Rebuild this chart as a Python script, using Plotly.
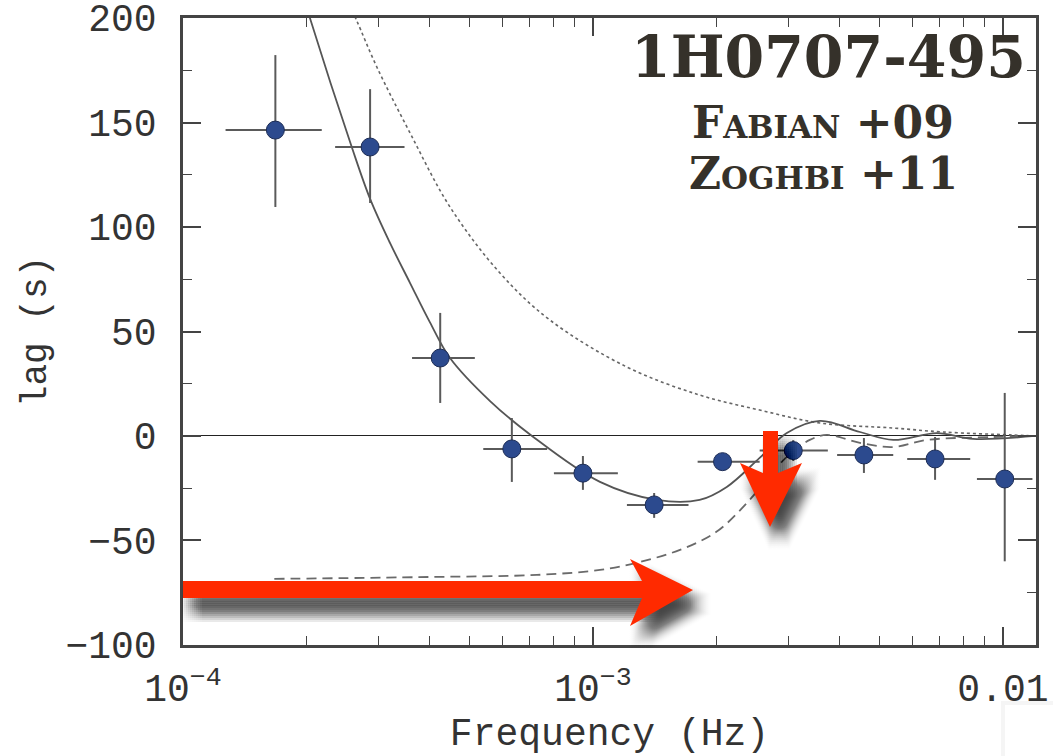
import plotly.graph_objects as go

# ---- measured lags (1H0707-495) ----
freq = [1.68e-4, 2.86e-4, 4.24e-4, 6.34e-4, 9.45e-4, 1.41e-3, 2.07e-3, 3.08e-3, 4.58e-3, 6.83e-3, 1.01e-2]
freq_lo = [1.27e-4, 2.35e-4, 3.62e-4, 5.40e-4, 8.03e-4, 1.21e-3, 1.80e-3, 2.55e-3, 3.94e-3, 5.84e-3, 8.64e-3]
freq_hi = [2.18e-4, 3.47e-4, 5.15e-4, 7.73e-4, 1.15e-3, 1.71e-3, 2.55e-3, 3.74e-3, 5.40e-3, 8.32e-3, 1.18e-2]
lag = [146.4, 138.3, 37.3, -6.2, -17.8, -33.0, -12.3, -7.0, -9.1, -11.0, -20.6]
lag_lo = [109.6, 111.5, 15.8, -22.0, -25.8, -39.2, -16.3, -12.0, -17.7, -21.0, -60.0]
lag_hi = [182.3, 166.0, 58.9, 8.6, -9.6, -27.3, -8.3, -2.0, -1.0, -0.5, 20.6]

# ---- model curves ----
total_f = [1.93e-4, 2.04e-4, 2.58e-4, 2.86e-4, 3.20e-4, 3.58e-4, 4.0e-4, 4.48e-4, 5.61e-4, 7.10e-4, 1.04e-3,
           1.43e-3, 1.82e-3, 2.12e-3, 2.55e-3, 2.97e-3, 3.58e-3, 4.48e-3, 5.40e-3, 6.90e-3, 8.45e-3, 1.20e-2]
total_lag = [216, 200, 138.3, 113.5, 92.3, 73.2, 54.5, 37.3, 16.7, 0.0, -22.0,
             -30.6, -30.6, -24.4, -10.5, 1.4, 7.2, 1.9, -1.9, 1.4, -1.4, 0.0]

hard_f = [2.55e-4, 2.65e-4, 2.97e-4, 3.58e-4, 4.48e-4, 5.93e-4, 7.85e-4, 1.21e-3, 1.82e-3,
          2.55e-3, 3.58e-3, 5.40e-3, 7.14e-3, 1.04e-2, 1.20e-2]
hard_lag = [206, 199, 176.6, 145, 109.6, 78, 55.5, 33, 19.6, 12.4, 6.2, 3.8, 1.9, 0.5, 0.0]

refl_f = [1.67e-4, 4.0e-4, 7.3e-4, 1.04e-3, 1.30e-3, 1.63e-3, 2.0e-3, 2.35e-3, 2.65e-3, 2.97e-3,
          3.38e-3, 3.72e-3, 4.48e-3, 5.40e-3, 6.53e-3, 9.46e-3, 1.20e-2]
refl_lag = [-68.4, -67.5, -66.5, -64.1, -60.3, -54.5, -45.9, -33, -21, -10,
            -1.9, 0.5, -3.3, -5.3, -1.9, -0.5, 0.0]

x_tickvals = [1e-4, 1e-3, 1e-2]
x_ticktext = ["10<sup>−4</sup>", "10<sup>−3</sup>", "0.01"]
x_minor = [k * 1e-4 for k in range(2, 10)] + [k * 1e-3 for k in range(2, 10)]
y_tickvals = [-100, -50, 0, 50, 100, 150, 200]

# plot-area geometry in pixels (used only for the overlay decorations)
W, H = 1053, 756
L, R, T, B = 183, 1036, 18, 645


def to_paper(px, py):
    return (px - L) / (R - L), (B - py) / (B - T)


def path_from(points, dx=0.0, dy=0.0):
    parts = []
    for i, (px, py) in enumerate(points):
        x, y = to_paper(px + dx, py + dy)
        parts.append(("M" if i == 0 else "L") + f"{x:.5f},{y:.5f}")
    return " ".join(parts) + " Z"


fig = go.Figure()

fig.add_trace(go.Scatter(x=hard_f, y=hard_lag, mode="lines", line=dict(color="#666", width=1.6, dash="dot"),
                         line_shape="spline", hoverinfo="skip", showlegend=False))
fig.add_trace(go.Scatter(x=refl_f, y=refl_lag, mode="lines", line=dict(color="#6a6a6a", width=1.8, dash="10px,6px"),
                         line_shape="spline", hoverinfo="skip", showlegend=False))
fig.add_trace(go.Scatter(x=total_f, y=total_lag, mode="lines", line=dict(color="#555", width=1.8),
                         line_shape="spline", hoverinfo="skip", showlegend=False))

fig.add_trace(go.Scatter(
    x=freq, y=lag, mode="markers",
    marker=dict(size=18, color="#2c4a8e", line=dict(color="#1c2c55", width=1)),
    error_x=dict(type="data", symmetric=False,
                 array=[h - f for h, f in zip(freq_hi, freq)],
                 arrayminus=[f - l for f, l in zip(freq, freq_lo)],
                 thickness=2, width=0, color="#5a5a5a"),
    error_y=dict(type="data", symmetric=False,
                 array=[h - v for h, v in zip(lag_hi, lag)],
                 arrayminus=[v - l for v, l in zip(lag, lag_lo)],
                 thickness=2, width=0, color="#5a5a5a"),
    showlegend=False,
))

# red arrows with a soft drop shadow
h_arrow = [(183, 581), (642, 581), (630, 559), (693, 590), (630, 626), (642, 598), (183, 598)]
v_arrow = [(763, 431), (778, 431), (778, 473), (802, 463), (770, 527), (740, 463), (763, 473)]

shapes = []

# small framed white panel at the lower right corner
shapes.append(dict(type="rect", xref="paper", yref="paper",
                   x0=to_paper(1001, 0)[0], x1=to_paper(1060, 0)[0],
                   y0=to_paper(0, 770)[1], y1=to_paper(0, 701)[1],
                   fillcolor="rgba(0,0,0,0.04)", line=dict(width=0), layer="above"))
shapes.append(dict(type="rect", xref="paper", yref="paper",
                   x0=to_paper(1005, 0)[0], x1=to_paper(1060, 0)[0],
                   y0=to_paper(0, 770)[1], y1=to_paper(0, 705)[1],
                   fillcolor="white", line=dict(width=0), layer="above"))

offs = [-10, -8, -6, -4, -2, 0, 2, 4, 6, 8, 10]
for arrow in (h_arrow, v_arrow):
    for ox in offs:
        for oy in offs:
            shapes.append(dict(type="path", xref="paper", yref="paper",
                               path=path_from(arrow, 9 + ox, 14 + oy),
                               fillcolor="rgba(0,0,0,0.009)", line=dict(width=0), layer="above"))
for arrow in (h_arrow, v_arrow):
    shapes.append(dict(type="path", xref="paper", yref="paper", path=path_from(arrow),
                       fillcolor="#ff2a00", line=dict(width=0), layer="above"))

label_font = dict(family="DejaVu Serif", color="#35312a", weight="bold")
annotations = [
    dict(text="1H0707-495", xref="paper", yref="paper", x=to_paper(828, 0)[0], y=to_paper(0, 57)[1],
         xanchor="center", yanchor="middle", showarrow=False, font=dict(size=57, **label_font)),
    dict(text="Fabian +09", xref="paper", yref="paper", x=to_paper(823, 0)[0], y=to_paper(0, 122)[1],
         xanchor="center", yanchor="middle", showarrow=False,
         font=dict(size=44, variant="small-caps", **label_font)),
    dict(text="Zoghbi +11", xref="paper", yref="paper", x=to_paper(823, 0)[0], y=to_paper(0, 174)[1],
         xanchor="center", yanchor="middle", showarrow=False,
         font=dict(size=44, variant="small-caps", **label_font)),
]

tick_font = dict(family="Liberation Mono", size=38, color="#333")

fig.update_layout(
    width=W, height=H,
    margin=dict(l=L, r=W - R, t=T, b=H - B),
    paper_bgcolor="white", plot_bgcolor="white",
    shapes=shapes, annotations=annotations,
    xaxis=dict(
        type="log", range=[-4, -1.9194], automargin=False,
        tickvals=x_tickvals, ticktext=x_ticktext,
        ticks="inside", ticklen=18, tickwidth=1.5, tickcolor="#444",
        minor=dict(tickvals=x_minor, ticks="inside", ticklen=9, tickwidth=1.3, tickcolor="#444"),
        showline=True, linewidth=2.5, linecolor="#444", mirror="ticks",
        showgrid=False, zeroline=False,
        tickfont=tick_font, ticklabelstandoff=8, ticklabeloverflow="allow",
        title=dict(text="Frequency (Hz)", font=tick_font, standoff=14),
    ),
    yaxis=dict(
        range=[-100.05, 200.05], tickvals=y_tickvals, automargin=False,
        ticks="inside", ticklen=18, tickwidth=1.5, tickcolor="#444",
        minor=dict(dtick=25, ticks="inside", ticklen=9, tickwidth=1.3, tickcolor="#444"),
        showline=True, linewidth=2.5, linecolor="#444", mirror="ticks",
        showgrid=False, zeroline=True, zerolinecolor="#222", zerolinewidth=1.4,
        tickfont=tick_font, ticklabelstandoff=16, ticklabeloverflow="allow",
        title=dict(text="lag (s)", font=dict(family="Liberation Mono", size=36, color="#333"), standoff=8),
    ),
)

fig.write_html("out.html")
